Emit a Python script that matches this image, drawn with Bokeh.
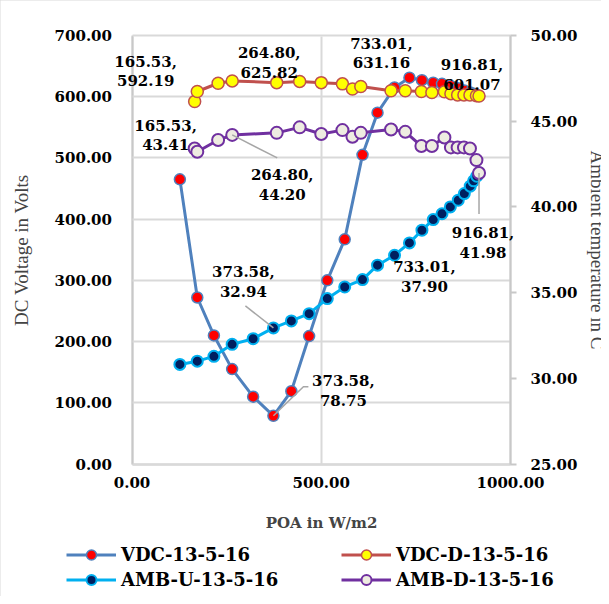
from bokeh.plotting import figure
from bokeh.models import (LinearAxis, Range1d, FixedTicker, PrintfTickFormatter,
                          Legend, LegendItem)
from bokeh.core.properties import value
from bokeh.embed import file_html
from bokeh.resources import INLINE

# ---------------- data ----------------
# rising part of the day (POA increasing up to the maximum)
poa_u = [126.5, 172.5, 216.4, 264.5, 320.0, 373.58, 421.0, 468.0, 516.0, 562.0,
         609.0, 648.7, 693.6, 733.01, 766.0, 795.8, 819.0, 841.0, 862.0, 878.0,
         893.6, 902.6, 911.0, 916.81]
vdc_u = [465.0, 272.0, 210.0, 155.0, 110.0, 78.75, 119.0, 209.0, 300.0, 367.0,
         505.0, 574.0, 615.0, 631.16, 627.0, 623.0, 621.0, 618.0, 614.0, 610.0,
         607.0, 605.0, 603.0, 601.07]
amb_u = [30.81, 31.00, 31.28, 31.98, 32.31, 32.94, 33.35, 33.77, 34.65, 35.33,
         35.76, 36.60, 37.18, 37.90, 38.64, 39.26, 39.60, 40.00, 40.39, 40.78,
         41.21, 41.52, 41.79, 41.98]
# falling part of the day
poa_d = [165.53, 172.5, 227.5, 264.80, 382.3, 443.0, 500.0, 556.0, 582.5, 604.5,
         684.4, 722.0, 764.6, 792.3, 825.4, 842.6, 860.3, 877.0, 892.9, 910.0, 916.81]
vdc_d = [592.19, 608.5, 622.0, 625.82, 623.0, 625.0, 623.0, 621.0, 612.5, 616.7,
         609.7, 609.7, 608.5, 607.0, 608.0, 605.0, 603.0, 603.0, 603.0, 601.5, 601.07]
amb_d = [43.41, 43.22, 43.90, 44.20, 44.32, 44.64, 44.25, 44.48, 44.09, 44.32,
         44.52, 44.38, 43.55, 43.55, 44.05, 43.47, 43.47, 43.47, 43.41, 42.73, 41.98]

series_names = ["VDC-13-5-16", "VDC-D-13-5-16", "AMB-U-13-5-16", "AMB-D-13-5-16"]
x_ticks = [0, 500, 1000]
y_ticks = [0, 100, 200, 300, 400, 500, 600, 700]
t_ticks = [25, 30, 35, 40, 45, 50]
X_MIN, X_MAX = 0, 1000
Y_MIN, Y_MAX = 0, 700
T_MIN, T_MAX = 25, 50

# ---------------- layout (pixels) ----------------
W, H = 601, 596
PX0, PXW = 131.5, 378.5        # left edge and width of the data area
PYT, PYB = 35.0, 463.5         # top and bottom of the data area
PYH = PYB - PYT

kx = (X_MAX - X_MIN) / PXW
ky = (Y_MAX - Y_MIN) / PYH
kt = (T_MAX - T_MIN) / PYH

p = figure(frame_width=W, frame_height=H, min_border=0,
           output_backend="svg", toolbar_location=None,
           x_range=Range1d(X_MIN - PX0 * kx, X_MAX + (W - PX0 - PXW) * kx),
           y_range=Range1d(Y_MIN - (H - PYB) * ky, Y_MAX + PYT * ky))
p.extra_y_ranges = {"temp": Range1d(T_MIN - (H - PYB) * kt, T_MAX + PYT * kt)}
p.outline_line_color = None
p.background_fill_color = "white"
p.border_fill_color = "white"
p.styles = {"outline": "2px solid #d9d9d9", "outline-offset": "-2px"}
p.xgrid.visible = False
p.ygrid.visible = False

GRID = "#d9d9d9"
AXC = "#c8c8c8"
NUMFONT = "DejaVu Serif"
TITLEFONT = "Liberation Serif"

def style_axis(ax):
    ax.major_label_text_font = NUMFONT
    ax.major_label_text_font_style = "bold"
    ax.major_label_text_font_size = "15px"
    ax.major_label_text_color = "black"
    ax.axis_line_color = AXC
    ax.axis_line_width = 2
    ax.minor_tick_line_color = None
    ax.formatter = PrintfTickFormatter(format="%.2f")
    ax.level = "underlay"

# x axis at y = 0; its inward ticks act as the vertical grid lines
xa = p.xaxis[0]
style_axis(xa)
xa.fixed_location = Y_MIN
xa.bounds = (X_MIN, X_MAX)
xa.ticker = FixedTicker(ticks=x_ticks)
xa.major_tick_out = 0
xa.major_tick_in = int(round(PYH))
xa.major_tick_line_color = GRID
xa.major_tick_line_width = 2
xa.major_label_standoff = 13
xa.axis_label = "POA in W/m2"
xa.axis_label_text_font = NUMFONT
xa.axis_label_text_font_style = "bold"
xa.axis_label_text_font_size = "15px"
xa.axis_label_standoff = 22

# left axis at x = 0; its inward ticks act as the horizontal grid lines
ya = p.yaxis[0]
style_axis(ya)
ya.fixed_location = X_MIN
ya.bounds = (Y_MIN, Y_MAX)
ya.ticker = FixedTicker(ticks=y_ticks)
ya.major_tick_out = 0
ya.major_tick_in = int(round(PXW))
ya.major_tick_line_color = GRID
ya.major_tick_line_width = 2
ya.major_label_standoff = 20
ya.axis_label = "DC Voltage in Volts"
ya.axis_label_text_font = TITLEFONT
ya.axis_label_text_font_style = "normal"
ya.axis_label_text_font_size = "19px"
ya.axis_label_standoff = 20

ra = LinearAxis(y_range_name="temp", fixed_location=X_MAX)
style_axis(ra)
ra.bounds = (T_MIN, T_MAX)
ra.ticker = FixedTicker(ticks=t_ticks)
ra.major_tick_out = 6
ra.major_tick_in = 0
ra.major_tick_line_color = AXC
ra.major_tick_line_width = 2
ra.major_label_standoff = 14
ra.axis_label = "Ambient temperature in C"
ra.axis_label_text_font = TITLEFONT
ra.axis_label_text_font_style = "normal"
ra.axis_label_text_font_size = "19px"
ra.axis_label_standoff = 7
p.add_layout(ra, "right")

# ---------------- series ----------------
l1 = p.line(poa_u, vdc_u, line_color="#4f81bd", line_width=3)
s1 = p.scatter(poa_u, vdc_u, size=11, fill_color="#ff0000", line_color="#4f81bd", line_width=1.5)
l2 = p.line(poa_d, vdc_d, line_color="#c0504d", line_width=3)
s2 = p.scatter(poa_d, vdc_d, size=12, fill_color="#ffff00", line_color="#c0504d", line_width=1.5)
l3 = p.line(poa_u, amb_u, line_color="#00b0f0", line_width=3, y_range_name="temp")
s3 = p.scatter(poa_u, amb_u, size=11, fill_color="#002060", line_color="#00b0f0", line_width=2,
               y_range_name="temp")
l4 = p.line(poa_d, amb_d, line_color="#7030a0", line_width=3, y_range_name="temp")
s4 = p.scatter(poa_d, amb_d, size=12, fill_color="#eeece1", line_color="#7030a0", line_width=2,
               y_range_name="temp")

# ---------------- data labels ----------------
# (x list, y list, index, range, label dx, label dy (px, down), leader px offsets)
labels = [
    (poa_d, vdc_d, 0, None, -49, -30, None),
    (poa_d, vdc_d, 3, None, 37, -18, None),
    (poa_u, vdc_u, 13, None, -28, -24, None),
    (poa_d, vdc_d, len(poa_d) - 1, None, -7, -21, None),
    (poa_d, amb_d, 0, "temp", -29, -13, None),
    (poa_d, amb_d, 3, "temp", 50, 50, [(0, 0), (45, 23)]),
    (poa_u, amb_u, 5, "temp", -30, -46, [(0, 0), (-28, -22)]),
    (poa_u, vdc_u, 5, None, 70, -25, [(0, 0), (30, -29), (35, -29)]),
    (poa_u, amb_u, 13, "temp", 15, 34, None),
    (poa_u, amb_u, len(poa_u) - 1, "temp", 4, 70, [(0, 0), (0, 41)]),
]

for xs, ys, i, rng, dx, dy, leader in labels:
    xv, yv = xs[i], ys[i]
    kw = {"y_range_name": rng} if rng else {}
    kyy = kt if rng else ky
    txt = f"{xv:.2f},\n{yv:.2f}"
    if leader:
        lx = [xv + ox * kx for ox, oy in leader]
        ly = [yv - oy * kyy for ox, oy in leader]
        p.line(lx, ly, line_color="#a6a6a6", line_width=1.5, **kw)
    p.text(x=[xv], y=[yv], text=[txt], x_offset=dx, y_offset=dy,
           text_align="center", text_baseline="middle", text_font=value(NUMFONT),
           text_font_style="bold", text_font_size="15px", text_color="black",
           text_line_height=1.08, **kw)

# ---------------- legend ----------------
legend = Legend(items=[
    LegendItem(label=series_names[0], renderers=[l1, s1]),
    LegendItem(label=series_names[1], renderers=[l2, s2]),
    LegendItem(label=series_names[2], renderers=[l3, s3]),
    LegendItem(label=series_names[3], renderers=[l4, s4]),
], location=(66, 4.5), orientation="horizontal", ncols=2)
legend.label_text_font = NUMFONT
legend.label_text_font_style = "bold"
legend.label_text_font_size = "18px"
legend.label_text_color = "black"
legend.glyph_width = 50
legend.glyph_height = 25
legend.label_height = 25
legend.label_width = 220
legend.label_standoff = 5
legend.spacing = 0
legend.padding = 2
legend.margin = 0
legend.border_line_color = None
legend.background_fill_alpha = 0
p.add_layout(legend)

open("out.html", "w").write(file_html(p, INLINE))
